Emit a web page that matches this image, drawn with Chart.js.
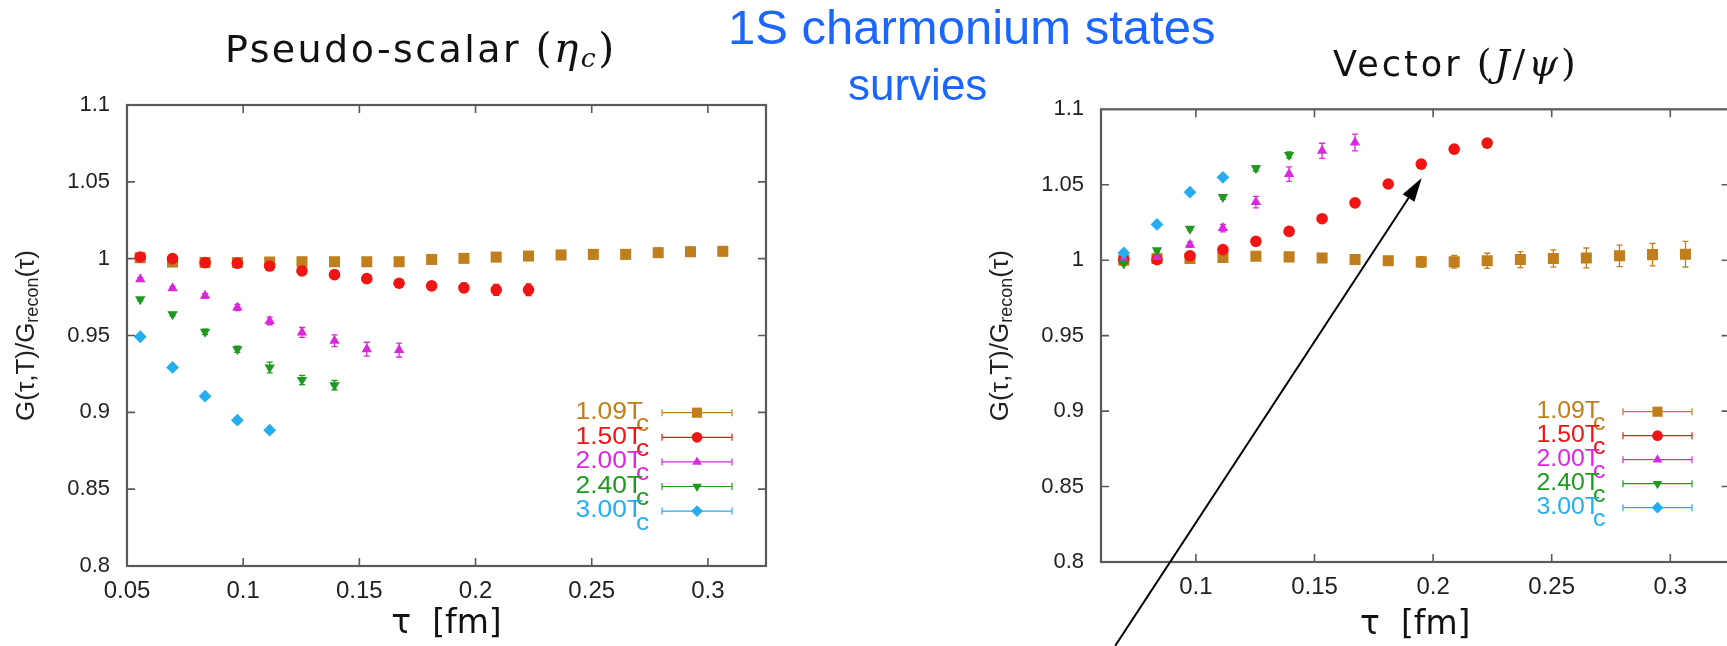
<!DOCTYPE html>
<html>
<head>
<meta charset="utf-8">
<script src="https://cdn.jsdelivr.net/npm/chart.js@4.4.1/dist/chart.umd.min.js"></script>
<style>
html,body{margin:0;padding:0;background:#fff;width:1727px;height:646px;overflow:hidden;position:relative}
canvas{position:absolute;top:0}
#c1{left:0}
#c2{left:960px}
.t{position:absolute;white-space:nowrap;line-height:1;color:#111}
.m{font-family:'DejaVu Serif','Liberation Serif',serif;font-size:108%}
.m i{font-style:italic}
sub{font-size:65%;vertical-align:-0.2em}
.blue{color:#1a66ff;font-family:'Liberation Sans',Arial,sans-serif}
</style>
</head>
<body>
<canvas id="c1" width="790" height="646"></canvas>
<canvas id="c2" width="780" height="646"></canvas>
<div class="t" style="left:225px;top:28px;font-family:'DejaVu Sans',sans-serif;font-size:38px;letter-spacing:2.4px">Pseudo-scalar <span class="m">(<i>η</i><sub><i>c</i></sub>)</span></div>
<div class="t" style="left:1333px;top:45px;font-family:'DejaVu Sans',sans-serif;font-size:35px;letter-spacing:3px">Vector <span class="m">(<i>J</i>/<i>ψ</i>)</span></div>
<div class="t blue" style="left:728px;top:3px;font-size:49px">1S charmonium states</div>
<div class="t blue" style="left:848px;top:63px;font-size:44px">survies</div>
<script>
// ---------- data ----------
const seriesNames = ['1.09', '1.50', '2.00', '2.40', '3.00'];
const seriesColors = ['#c07f1c', '#f01414', '#dc28dc', '#1f9a1f', '#24aef0'];

const tauLeft = [0.0557, 0.0696, 0.0836, 0.0975, 0.1114, 0.1253, 0.1393, 0.1532, 0.1671, 0.1811, 0.1950, 0.2089, 0.2228, 0.2368, 0.2507, 0.2646, 0.2786, 0.2925, 0.3064];
const tauRight = [0.0696, 0.0836, 0.0975, 0.1114, 0.1253, 0.1393, 0.1532, 0.1671, 0.1811, 0.1950, 0.2089, 0.2228, 0.2368, 0.2507, 0.2646, 0.2786, 0.2925, 0.3064];

// Pseudo-scalar (eta_c)
const ps109 = [1.0006, 0.9978, 0.9975, 0.9975, 0.9978, 0.998, 0.998, 0.998, 0.998, 0.9995, 1.0002, 1.001, 1.0017, 1.0024, 1.0028, 1.0028, 1.0039, 1.0045, 1.0048];
const ps109Err = [0.0015, 0.0015, 0.0015, 0.0015, 0.0015, 0.0018, 0.002, 0.002, 0.002, 0.0022, 0.0025, 0.0025, 0.0025, 0.0028, 0.003, 0.003, 0.003, 0.003, 0.003];
const ps150 = [1.0011, 1.0, 0.9974, 0.997, 0.9952, 0.992, 0.9896, 0.987, 0.984, 0.9823, 0.981, 0.9797, 0.9797];
const ps150Err = [0.001, 0.001, 0.001, 0.001, 0.0012, 0.0015, 0.0015, 0.0018, 0.002, 0.0025, 0.003, 0.0035, 0.0038];
const ps200 = [0.9866, 0.9807, 0.9758, 0.9682, 0.9595, 0.952, 0.9466, 0.9411, 0.9405];
const ps200Err = [0.001, 0.0012, 0.0015, 0.002, 0.0025, 0.0032, 0.0038, 0.0045, 0.0045];
const ps240 = [0.9736, 0.9639, 0.9524, 0.941, 0.9292, 0.921, 0.9177];
const ps240Err = [0.001, 0.0012, 0.0018, 0.002, 0.0035, 0.003, 0.003];
const ps300 = [0.9492, 0.9292, 0.9105, 0.8949, 0.8884];
const ps300Err = [0.0008, 0.001, 0.0012, 0.0015, 0.0015];

// Vector (J/psi)
const vc109 = [1.0, 1.0011, 1.0011, 1.0018, 1.0026, 1.0022, 1.0015, 1.0004, 0.9996, 0.9989, 0.9989, 0.9996, 1.0004, 1.0011, 1.0015, 1.0029, 1.0037, 1.004];
const vc109Err = [0.001, 0.001, 0.0012, 0.0015, 0.0018, 0.002, 0.0022, 0.0025, 0.003, 0.0035, 0.0042, 0.005, 0.0053, 0.0057, 0.0066, 0.0071, 0.0074, 0.0085];
const vc150 = [1.0004, 1.0004, 1.0029, 1.007, 1.0125, 1.0191, 1.0275, 1.038, 1.0505, 1.0637, 1.0736, 1.0776];
const vc150Err = [0.0008, 0.0008, 0.0008, 0.001, 0.001, 0.001, 0.0012, 0.0012, 0.0012, 0.0012, 0.0015, 0.0015];
const vc200 = [1.0011, 1.0022, 1.0103, 1.0213, 1.0385, 1.0571, 1.0725, 1.078];
const vc200Err = [0.001, 0.0012, 0.0018, 0.0025, 0.0038, 0.0048, 0.005, 0.0055];
const vc240 = [0.9978, 1.0066, 1.0209, 1.0418, 1.0609, 1.0697];
const vc240Err = [0.001, 0.001, 0.0012, 0.0015, 0.0018, 0.002];
const vc300 = [1.0048, 1.0237, 1.0451, 1.0549];
const vc300Err = [0.0008, 0.001, 0.001, 0.0012];

// axes
const xTicksLeft = [0.05, 0.1, 0.15, 0.2, 0.25, 0.3];
const xTicksRight = [0.1, 0.15, 0.2, 0.25, 0.3];
const yTicks = [0.8, 0.85, 0.9, 0.95, 1.0, 1.05, 1.1];
const xRangeLeft = [0.05, 0.325];
const xRangeRight = [0.06, 0.325];
const yRange = [0.8, 1.1];

// arrow annotation (data coordinates of right panel)
const arrowTail = [0.066, 0.7445];
const arrowHead = [0.1952, 1.0545];

// ---------- styles ----------
const markerStyles = [
  {pointStyle: 'rect', radius: 7.8, rotation: 0},
  {pointStyle: 'circle', radius: 5.8, rotation: 0},
  {pointStyle: 'triangle', radius: 6, rotation: 0},
  {pointStyle: 'triangle', radius: 6, rotation: 180},
  {pointStyle: 'rectRot', radius: 6.4, rotation: 0}
];

function makeDatasets(tau, values, errs) {
  return values.map((vals, i) => ({
    label: seriesNames[i] + 'Tc',
    legendName: seriesNames[i],
    data: vals.map((v, k) => ({x: tau[k], y: v})),
    errors: errs[i],
    backgroundColor: seriesColors[i],
    borderColor: seriesColors[i],
    borderWidth: 0,
    pointStyle: markerStyles[i].pointStyle,
    pointRadius: markerStyles[i].radius,
    pointRotation: markerStyles[i].rotation,
    pointHoverRadius: markerStyles[i].radius,
    showLine: false,
    order: values.length - i
  }));
}

const fmt = v => String(+(+v).toFixed(3));

// ---------- plugins ----------
const framePlugin = {
  id: 'frame',
  beforeDatasetsDraw(chart) {
    const {ctx, chartArea: a} = chart;
    const xs = chart.scales.x, ys = chart.scales.y;
    ctx.save();
    ctx.strokeStyle = '#5a5a5a';
    ctx.lineWidth = 1.6;
    const L = 8;
    ctx.beginPath();
    xs.ticks.forEach(t => {
      const p = xs.getPixelForValue(t.value);
      if (p <= a.left + 1 || p >= a.right - 1) return;
      ctx.moveTo(p, a.bottom); ctx.lineTo(p, a.bottom - L);
      ctx.moveTo(p, a.top); ctx.lineTo(p, a.top + L);
    });
    ys.ticks.forEach(t => {
      const p = ys.getPixelForValue(t.value);
      if (p <= a.top + 1 || p >= a.bottom - 1) return;
      ctx.moveTo(a.left, p); ctx.lineTo(a.left + L, p);
      ctx.moveTo(a.right, p); ctx.lineTo(a.right - L, p);
    });
    ctx.stroke();
    ctx.lineWidth = 2.2;
    ctx.strokeRect(a.left, a.top, a.right - a.left, a.bottom - a.top);
    ctx.restore();
  }
};

const errorBarPlugin = {
  id: 'errbars',
  beforeDatasetsDraw(chart) {
    const ctx = chart.ctx, xs = chart.scales.x, ys = chart.scales.y;
    ctx.save();
    ctx.lineWidth = 1.3;
    chart.data.datasets.forEach(ds => {
      ctx.strokeStyle = ds.borderColor;
      ctx.beginPath();
      ds.data.forEach((p, i) => {
        const e = ds.errors[i];
        const px = xs.getPixelForValue(p.x);
        const y1 = ys.getPixelForValue(p.y - e), y2 = ys.getPixelForValue(p.y + e);
        ctx.moveTo(px, y1); ctx.lineTo(px, y2);
        ctx.moveTo(px - 3, y1); ctx.lineTo(px + 3, y1);
        ctx.moveTo(px - 3, y2); ctx.lineTo(px + 3, y2);
      });
      ctx.stroke();
    });
    ctx.restore();
  }
};

function drawMarker(ctx, style, r, rot, x, y) {
  ctx.beginPath();
  if (style === 'rect') {
    const s = r * Math.SQRT1_2;
    ctx.rect(x - s, y - s, 2 * s, 2 * s);
  } else if (style === 'circle') {
    ctx.arc(x, y, r, 0, Math.PI * 2);
  } else if (style === 'triangle') {
    const a0 = rot * Math.PI / 180;
    for (let k = 0; k < 3; k++) {
      const a = a0 + k * 2 * Math.PI / 3;
      const px = x + Math.sin(a) * r, py = y - Math.cos(a) * r;
      if (k === 0) ctx.moveTo(px, py); else ctx.lineTo(px, py);
    }
    ctx.closePath();
  } else if (style === 'rectRot') {
    ctx.moveTo(x - r, y); ctx.lineTo(x, y - r); ctx.lineTo(x + r, y); ctx.lineTo(x, y + r);
    ctx.closePath();
  }
  ctx.fill();
}

const legendPlugin = {
  id: 'ebLegend',
  afterDraw(chart, args, o) {
    const ctx = chart.ctx;
    ctx.save();
    chart.data.datasets.forEach((ds, i) => {
      const y = o.rowY0 + i * o.rowH;
      ctx.fillStyle = ds.borderColor;
      ctx.strokeStyle = ds.borderColor;
      ctx.font = o.fontSize + "px 'Liberation Sans', Arial, sans-serif";
      ctx.textBaseline = 'alphabetic';
      ctx.save();
      ctx.translate(o.textRight, y + 6.3);
      ctx.scale(o.stretch, 1);
      ctx.textAlign = 'right';
      ctx.fillText(ds.legendName + 'T', 0, 0);
      ctx.restore();
      ctx.save();
      ctx.translate(o.textRight - 7, y + 18.5);
      ctx.scale(o.stretch, 1);
      ctx.textAlign = 'left';
      ctx.fillText('c', 0, 0);
      ctx.restore();
      ctx.lineWidth = 1.2;
      ctx.beginPath();
      ctx.moveTo(o.lineX1, y); ctx.lineTo(o.lineX2, y);
      ctx.moveTo(o.lineX1, y - 3.5); ctx.lineTo(o.lineX1, y + 3.5);
      ctx.moveTo(o.lineX2, y - 3.5); ctx.lineTo(o.lineX2, y + 3.5);
      ctx.stroke();
      drawMarker(ctx, ds.pointStyle, ds.pointRadius * 0.92, ds.pointRotation, (o.lineX1 + o.lineX2) / 2, y);
    });
    ctx.restore();
  }
};

const yTitlePlugin = {
  id: 'yTitle',
  afterDraw(chart, args, o) {
    const ctx = chart.ctx, a = chart.chartArea;
    const big = "26px 'Liberation Sans', Arial, sans-serif";
    const small = "18px 'Liberation Sans', Arial, sans-serif";
    const parts = [['G(τ,T)/G', big, 0], ['recon', small, 6], ['(τ)', big, 0]];
    ctx.save();
    let total = 0;
    parts.forEach(p => { ctx.font = p[1]; total += ctx.measureText(p[0]).width; });
    ctx.translate(o.x, (a.top + a.bottom) / 2);
    ctx.rotate(-Math.PI / 2);
    ctx.fillStyle = '#222';
    ctx.textBaseline = 'middle';
    ctx.textAlign = 'left';
    let cx = -total / 2;
    parts.forEach(p => {
      ctx.font = p[1];
      ctx.fillText(p[0], cx, p[2]);
      cx += ctx.measureText(p[0]).width;
    });
    ctx.restore();
  }
};

const arrowPlugin = {
  id: 'arrow',
  afterDraw(chart, args, o) {
    if (!o || !o.from) return;
    const ctx = chart.ctx, xs = chart.scales.x, ys = chart.scales.y;
    const x1 = xs.getPixelForValue(o.from[0]), y1 = ys.getPixelForValue(o.from[1]);
    const x2 = xs.getPixelForValue(o.to[0]), y2 = ys.getPixelForValue(o.to[1]);
    const ang = Math.atan2(y2 - y1, x2 - x1);
    const hl = 24, hw = 7;
    const bx = x2 - Math.cos(ang) * hl, by = y2 - Math.sin(ang) * hl;
    ctx.save();
    ctx.strokeStyle = '#000';
    ctx.fillStyle = '#000';
    ctx.lineWidth = 2;
    ctx.beginPath(); ctx.moveTo(x1, y1); ctx.lineTo(bx, by); ctx.stroke();
    ctx.beginPath();
    ctx.moveTo(x2, y2);
    ctx.lineTo(bx + Math.sin(ang) * hw, by - Math.cos(ang) * hw);
    ctx.lineTo(bx - Math.sin(ang) * hw, by + Math.cos(ang) * hw);
    ctx.closePath(); ctx.fill();
    ctx.restore();
  }
};

function makeChart(id, datasets, cfg) {
  return new Chart(document.getElementById(id), {
    type: 'scatter',
    data: {datasets},
    plugins: [framePlugin, errorBarPlugin, legendPlugin, yTitlePlugin, arrowPlugin],
    options: {
      responsive: false,
      animation: false,
      events: [],
      layout: {padding: {top: cfg.padTop, left: 0, right: cfg.padRight, bottom: 0}},
      plugins: {
        legend: {display: false},
        tooltip: {enabled: false},
        ebLegend: cfg.legend,
        yTitle: {x: cfg.yTitleX},
        arrow: cfg.arrow || {}
      },
      scales: {
        x: {
          type: 'linear',
          min: cfg.xRange[0], max: cfg.xRange[1],
          grid: {display: false, drawTicks: false},
          border: {display: false},
          afterBuildTicks: s => { s.ticks = cfg.xTicks.map(v => ({value: v})); },
          afterFit: s => { s.height = cfg.xAxisH; },
          ticks: {
            autoSkip: false, maxRotation: 0, padding: 11,
            color: '#222',
            font: {family: "'Liberation Sans', Arial, sans-serif", size: 24},
            callback: v => fmt(v)
          },
          title: {
            display: true, text: 'τ  [fm]', color: '#111',
            font: {family: "'DejaVu Sans', sans-serif", size: 33},
            padding: {top: 0, bottom: cfg.titlePadB}
          }
        },
        y: {
          type: 'linear',
          min: yRange[0], max: yRange[1],
          grid: {display: false, drawTicks: false},
          border: {display: false},
          afterBuildTicks: s => { s.ticks = yTicks.map(v => ({value: v})); },
          afterFit: s => { s.width = cfg.yAxisW; },
          ticks: {
            autoSkip: false, padding: 17,
            color: '#222',
            font: {family: "'Liberation Sans', Arial, sans-serif", size: 22},
            callback: v => fmt(v)
          }
        }
      }
    }
  });
}

makeChart('c1',
  makeDatasets(tauLeft, [ps109, ps150, ps200, ps240, ps300], [ps109Err, ps150Err, ps200Err, ps240Err, ps300Err]),
  {padTop: 105, padRight: 24, xAxisH: 80, yAxisW: 127, titlePadB: 2, xRange: xRangeLeft, xTicks: xTicksLeft,
   yTitleX: 27,
   legend: {textRight: 643, lineX1: 662, lineX2: 732, rowY0: 412.7, rowH: 24.6, fontSize: 24, stretch: 1.1}});

makeChart('c2',
  makeDatasets(tauRight, [vc109, vc150, vc200, vc240, vc300], [vc109Err, vc150Err, vc200Err, vc240Err, vc300Err]),
  {padTop: 109.3, padRight: 10.4, xAxisH: 84, yAxisW: 141, titlePadB: 1, xRange: xRangeRight, xTicks: xTicksRight,
   yTitleX: 41,
   legend: {textRight: 640, lineX1: 663, lineX2: 732, rowY0: 411.7, rowH: 24, fontSize: 23, stretch: 1.08},
   arrow: {from: arrowTail, to: arrowHead}});
</script>
</body>
</html>
